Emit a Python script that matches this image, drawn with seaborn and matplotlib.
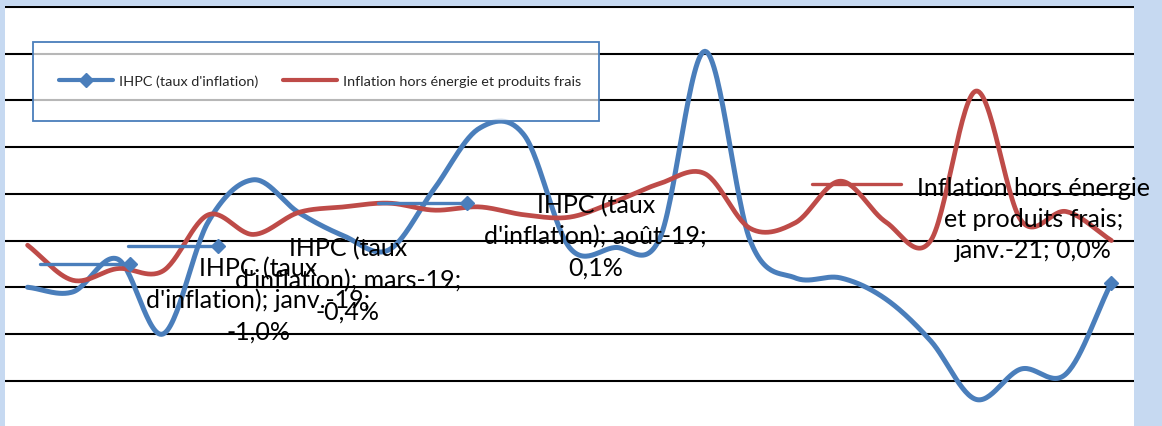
import numpy as np
import pandas as pd
import matplotlib
matplotlib.use("Agg")
import matplotlib.pyplot as plt
import seaborn as sns
from matplotlib.lines import Line2D
from matplotlib.legend_handler import HandlerLine2D
from matplotlib.patches import Rectangle
from matplotlib.transforms import offset_copy, Affine2D

# ---------------- data ----------------
months = ["janv.-19", "févr.-19", "mars-19", "avr.-19", "mai-19", "juin-19",
          "juil.-19", "août-19", "sept.-19", "oct.-19", "nov.-19", "déc.-19",
          "janv.-20", "févr.-20", "mars-20", "avr.-20", "mai-20", "juin-20",
          "juil.-20", "août-20", "sept.-20", "oct.-20", "nov.-20", "déc.-20",
          "janv.-21"]
ihpc = [-1.0, -1.1, -0.4, -2.0, 0.4, 1.3, 0.6, 0.1, -0.2, 1.1, 2.4, 2.25,
        -0.15, -0.15, 0.05, 4.05, 0.0, -0.8, -0.8, -1.25, -2.15, -3.4,
        -2.75, -2.85, -0.9]
core = [-0.1, -0.85, -0.6, -0.65, 0.55, 0.13, 0.6, 0.72, 0.8, 0.65, 0.72,
        0.55, 0.5, 0.83, 1.22, 1.43, 0.26, 0.38, 1.27, 0.4, 0.0, 3.2, 0.43,
        0.62, 0.0]
series_names = ["IHPC (taux d'inflation)", "Inflation hors énergie et produits frais"]
yticks = [-3, -2, -1, 0, 1, 2, 3, 4, 5]

BLUE = "#4A7EBB"
RED = "#BE4B48"
BG = "#C6D9F1"
FONT = ["Lato", "DejaVu Sans"]


def smooth(values, n=30):
    """Catmull-Rom (Excel-like) smoothing through every data point."""
    y = np.asarray(values, float)
    x = np.arange(len(y), dtype=float)
    m = np.empty_like(y)
    m[1:-1] = (y[2:] - y[:-2]) / 2
    m[0] = y[1] - y[0]
    m[-1] = y[-1] - y[-2]
    t = np.linspace(0, 1, n, endpoint=False)
    h00 = 2 * t**3 - 3 * t**2 + 1
    h10 = t**3 - 2 * t**2 + t
    h01 = -2 * t**3 + 3 * t**2
    h11 = t**3 - t**2
    xs, ys = [], []
    for i in range(len(y) - 1):
        xs.append(x[i] + t)
        ys.append(h00 * y[i] + h10 * m[i] + h01 * y[i + 1] + h11 * m[i + 1])
    xs.append([x[-1]])
    ys.append([y[-1]])
    return np.concatenate(xs), np.concatenate(ys)


sns.set_theme(style="white")
plt.rcParams["font.family"] = FONT

fig = plt.figure(figsize=(11.62, 4.27), dpi=100, facecolor=BG)
ax = fig.add_axes([5 / 1162, 0, 1129 / 1162, 420 / 427])
ax.set_facecolor("white")

xb, yb = smooth(ihpc)
xr, yr = smooth(core)
df_b = pd.DataFrame({"x": xb, "y": yb})
df_r = pd.DataFrame({"x": xr, "y": yr})
sns.lineplot(data=df_b, x="x", y="y", sort=False, estimator=None, color=BLUE,
             linewidth=3.6, ax=ax, legend=False, zorder=3)
sns.lineplot(data=df_r, x="x", y="y", sort=False, estimator=None, color=RED,
             linewidth=3.4, ax=ax, legend=False, zorder=3)
# marker on the last IHPC point
ax.plot([len(ihpc) - 1], [ihpc[-1]], marker="D", ms=7, color=BLUE, zorder=4,
        linestyle="none")

ax.set_xlim(-0.5, len(months) - 0.5)
ax.set_ylim(-3.97, 5.02)
ax.set_yticks(yticks)
ax.set_xticks(range(len(months)))
ax.yaxis.grid(True, color="black", linewidth=1.5)
ax.xaxis.grid(False)
ax.tick_params(left=False, labelleft=False, bottom=False, labelbottom=False)
ax.set_xlabel("")
ax.set_ylabel("")
for s in ax.spines.values():
    s.set_visible(False)

# ---------------- data labels ----------------
labels = [
    # (series values, index, text, text offset px, leader (dx1, dx2, dy), colour, marker)
    (ihpc, 0, "IHPC (taux\nd'inflation); janv.-19;\n-1,0%", (231, -12), (12, 102, 23), BLUE, True),
    (ihpc, 2, "IHPC (taux\nd'inflation); mars-19;\n-0,4%", (230, -20), (10, 100, 13), BLUE, True),
    (ihpc, 7, "IHPC (taux\nd'inflation); août-19;\n0,1%", (252, 0), (34, 123, 33), BLUE, True),
    (core, 24, "Inflation hors énergie\net produits frais;\njanv.-21; 0,0%", (-78, 22), (-299, -210, 57), RED, False),
]
fig.canvas.draw()
for vals, idx, txt, (tx, ty), (l1, l2, ld), col, mk in labels:
    ax.text(idx, vals[idx], txt,
            transform=offset_copy(ax.transData, fig=fig, x=tx, y=ty, units="dots"),
            ha="center", va="center", fontsize=18, color="black",
            linespacing=1.44, zorder=6, family=FONT)
    px, py = ax.transData.transform((idx, vals[idx]))
    ln = Line2D([l1, l2], [ld, ld], color=col, linewidth=2.4,
                transform=Affine2D().translate(px, py), zorder=5)
    fig.add_artist(ln)
    if mk:
        mkr = Line2D([l2], [ld], marker="D", ms=7, color=col, linestyle="none",
                     transform=Affine2D().translate(px, py), zorder=5)
        fig.add_artist(mkr)

# ---------------- legend ----------------
class RightMarkerHandler(HandlerLine2D):
    def get_xdata(self, legend, xdescent, ydescent, width, height, fontsize):
        xdata = np.array([-xdescent, -xdescent + width], float)
        return xdata, np.array([-xdescent + width], float)


box = Rectangle((33 / 1162, 1 - 122 / 427), 566 / 1162, 79 / 427,
                transform=fig.transFigure, facecolor=(1, 1, 1, 0.72),
                edgecolor=BLUE, linewidth=1.3, zorder=10)
fig.add_artist(box)

h_blue = Line2D([0, 1], [0, 0], color=BLUE, linewidth=3, marker="D", ms=7)
h_red = Line2D([0, 1], [0, 0], color=RED, linewidth=3)
leg = fig.legend([h_blue, h_red], series_names, loc="center left",
                 bbox_to_anchor=(59 / 1162, 1 - 82 / 427), ncol=2, frameon=False,
                 fontsize=10.4, handlelength=3.75, handletextpad=0.42,
                 columnspacing=1.7, borderpad=0, borderaxespad=0,
                 handler_map={h_blue: RightMarkerHandler()})
leg.set_zorder(11)
for t in leg.get_texts():
    t.set_family(FONT)

fig.savefig("out.png", dpi=100, facecolor=BG)
